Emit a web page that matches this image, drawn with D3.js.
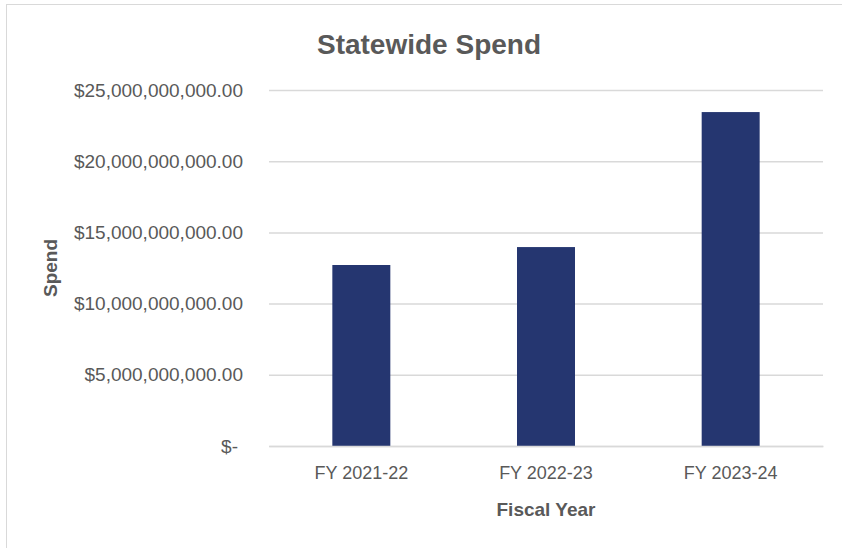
<!DOCTYPE html>
<html><head><meta charset="utf-8">
<script src="https://cdn.jsdelivr.net/npm/d3@7"></script>
<style>body{margin:0;background:#fff}svg{display:block}</style>
</head><body>
<svg id="c" width="842" height="548"></svg>
<script>
const categories = ["FY 2021-22", "FY 2022-23", "FY 2023-24"];
const spend = [12710000000, 13970000000, 23450000000];
const yTicks = [0, 5000000000, 10000000000, 15000000000, 20000000000, 25000000000];

const svg = d3.select("#c");
const gray = "#595959";
svg.append("rect").attr("x", 6.5).attr("y", 4.5).attr("width", 845).attr("height", 560)
  .attr("fill", "#fff").attr("stroke", "#d9d9d9").attr("stroke-width", 1);

const L = 269, R = 823, T = 90, B = 446;
const x = d3.scaleBand().domain(categories).range([L, R]).paddingInner(0.686).paddingOuter(0.343);
const y = d3.scaleLinear().domain([0, 25000000000]).range([B, T]);

const fmt = v => v === 0 ? "$-" : "$" + d3.format(",.2f")(v);

const ga = svg.append("g").attr("transform", `translate(${L},0)`)
  .call(d3.axisLeft(y).tickValues(yTicks).tickFormat(fmt).tickSize(-(R - L)).tickPadding(26));
ga.select(".domain").remove();
ga.selectAll(".tick line").attr("stroke", "#d9d9d9").attr("stroke-width", 1.5);
ga.selectAll(".tick text").attr("fill", gray).attr("font-family", "Liberation Sans, Arial, sans-serif").attr("font-size", 19);
ga.selectAll(".tick").filter(d => d === 0).select("text").attr("dx", -5);

svg.append("g").selectAll("rect").data(spend).join("rect")
  .attr("x", (d, i) => x(categories[i])).attr("width", x.bandwidth())
  .attr("y", d => y(d)).attr("height", d => B - y(d)).attr("fill", "#253670");

const gx = svg.append("g").attr("transform", `translate(0,${B})`)
  .call(d3.axisBottom(x).tickSize(0).tickPadding(20));
gx.select(".domain").attr("stroke", "#d9d9d9").attr("stroke-width", 1.5);
gx.selectAll(".tick text").attr("fill", gray).attr("font-family", "Liberation Sans, sans-serif").attr("font-size", 18);

svg.append("text").attr("x", 429).attr("y", 54).attr("text-anchor", "middle")
  .attr("fill", gray).attr("font-family", "Liberation Sans, sans-serif")
  .attr("font-weight", "bold").attr("font-size", 28).text("Statewide Spend");
svg.append("text").attr("x", 546).attr("y", 516).attr("text-anchor", "middle")
  .attr("fill", gray).attr("font-family", "Liberation Sans, sans-serif")
  .attr("font-weight", "bold").attr("font-size", 19).text("Fiscal Year");
svg.append("text").attr("transform", "translate(57,268) rotate(-90)").attr("text-anchor", "middle")
  .attr("fill", gray).attr("font-family", "Liberation Sans, sans-serif")
  .attr("font-weight", "bold").attr("font-size", 19).text("Spend");
</script>
</body></html>
